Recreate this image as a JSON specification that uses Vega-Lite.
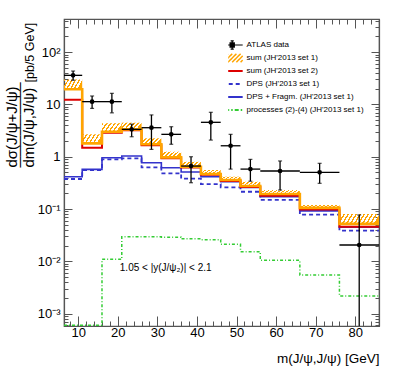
{
  "$schema": "https://vega.github.io/schema/vega-lite/v6.json",
  "width": 315,
  "height": 307,
  "autosize": {"type": "none"},
  "padding": {"left": 64, "top": 19, "right": 20, "bottom": 62},
  "background": "white",
  "config": {
    "view": {"stroke": "#555", "strokeWidth": 1.2},
    "font": "Liberation Sans",
    "axis": {
      "domainColor": "#555", "domainWidth": 1.2, "tickColor": "#555", "tickWidth": 1,
      "labelFont": "Liberation Sans", "labelColor": "#000", "titleFont": "Liberation Sans",
      "titleColor": "#000", "titleFontWeight": "normal", "grid": false,
      "labelOverlap": false, "labelFlush": false, "labelBound": false
    }
  },
  "datasets": {
    "hist": [
      {"bin": 1, "lo": 6.4, "hi": 11, "sum1": 19.5, "sum1up": 30, "sum2": 12.3, "dps": 0.375, "dpsf": 0.415, "proc": 0.0006},
      {"bin": 2, "lo": 11, "hi": 16, "sum1": 1.8, "sum1up": 2.68, "sum2": 1.49, "dps": 0.557, "dpsf": 0.574, "proc": 0.0006},
      {"bin": 3, "lo": 16, "hi": 21, "sum1": 3.0, "sum1up": 4.35, "sum2": 2.88, "dps": 0.89, "dpsf": 0.957, "proc": 0.0109},
      {"bin": 4, "lo": 21, "hi": 26, "sum1": 3.34, "sum1up": 4.47, "sum2": 3.2, "dps": 0.93, "dpsf": 1.03, "proc": 0.0295},
      {"bin": 5, "lo": 26, "hi": 31, "sum1": 1.73, "sum1up": 2.25, "sum2": 1.66, "dps": 0.627, "dpsf": 0.768, "proc": 0.0295},
      {"bin": 6, "lo": 31, "hi": 36, "sum1": 0.974, "sum1up": 1.25, "sum2": 0.94, "dps": 0.482, "dpsf": 0.616, "proc": 0.029},
      {"bin": 7, "lo": 36, "hi": 41, "sum1": 0.644, "sum1up": 0.8, "sum2": 0.62, "dps": 0.38, "dpsf": 0.51, "proc": 0.027},
      {"bin": 8, "lo": 41, "hi": 46, "sum1": 0.467, "sum1up": 0.557, "sum2": 0.45, "dps": 0.3, "dpsf": 0.415, "proc": 0.026},
      {"bin": 9, "lo": 46, "hi": 51, "sum1": 0.358, "sum1up": 0.415, "sum2": 0.345, "dps": 0.26, "dpsf": 0.333, "proc": 0.0211},
      {"bin": 10, "lo": 51, "hi": 56, "sum1": 0.275, "sum1up": 0.333, "sum2": 0.265, "dps": 0.214, "dpsf": 0.26, "proc": 0.0153},
      {"bin": 11, "lo": 56, "hi": 66, "sum1": 0.194, "sum1up": 0.231, "sum2": 0.18, "dps": 0.149, "dpsf": 0.172, "proc": 0.0105},
      {"bin": 12, "lo": 66, "hi": 76, "sum1": 0.105, "sum1up": 0.119, "sum2": 0.098, "dps": 0.078, "dpsf": 0.092, "proc": 0.00545},
      {"bin": 13, "lo": 76, "hi": 86, "sum1": 0.052, "sum1up": 0.08, "sum2": 0.046, "dps": 0.0385, "dpsf": 0.045, "proc": 0.00217}
    ],
    "pts": [
      {"x": 8.7, "y": 36, "ylo": 29, "yhi": 43.5, "lo": 6.4, "hi": 11},
      {"x": 13.5, "y": 11.3, "ylo": 8.4, "yhi": 14.5, "lo": 11, "hi": 16},
      {"x": 18.5, "y": 11.3, "ylo": 6.9, "yhi": 16.3, "lo": 16, "hi": 21},
      {"x": 23.5, "y": 3.34, "ylo": 2.41, "yhi": 4.2, "lo": 21, "hi": 26},
      {"x": 28.5, "y": 3.59, "ylo": 1.38, "yhi": 6.3, "lo": 26, "hi": 31},
      {"x": 33.5, "y": 2.68, "ylo": 1.73, "yhi": 3.75, "lo": 31, "hi": 36},
      {"x": 38.5, "y": 0.664, "ylo": 0.318, "yhi": 1.0, "lo": 36, "hi": 41},
      {"x": 43.5, "y": 4.55, "ylo": 2.08, "yhi": 7.07, "lo": 41, "hi": 46},
      {"x": 48.5, "y": 1.62, "ylo": 0.58, "yhi": 2.68, "lo": 46, "hi": 51},
      {"x": 53.5, "y": 0.58, "ylo": 0.34, "yhi": 0.89, "lo": 51, "hi": 56},
      {"x": 61, "y": 0.533, "ylo": 0.231, "yhi": 0.83, "lo": 56, "hi": 66},
      {"x": 71, "y": 0.503, "ylo": 0.31, "yhi": 0.748, "lo": 66, "hi": 76},
      {"x": 81, "y": 0.0205, "ylo": 0.0001, "yhi": 0.077, "lo": 76, "hi": 86}
    ]
  },
  "resolve": {"axis": {"x": "independent", "y": "independent"}},
  "layer": [
    {
      "data": {"name": "hist"},
      "transform": [{"filter": "datum.hi - datum.lo < 7"}],
      "mark": {"type": "rect", "clip": true, "fill": {"gradient": "linear", "x1": 0, "y1": 0, "x2": 1, "y2": 0.3, "stops": [
        {"offset": 0, "color": "#ffa500"}, {"offset": 0.075, "color": "#ffa500"}, {"offset": 0.075, "color": "rgba(255,255,255,0)"}, {"offset": 0.186, "color": "rgba(255,255,255,0)"},
        {"offset": 0.186, "color": "#ffa500"}, {"offset": 0.261, "color": "#ffa500"}, {"offset": 0.261, "color": "rgba(255,255,255,0)"}, {"offset": 0.372, "color": "rgba(255,255,255,0)"},
        {"offset": 0.372, "color": "#ffa500"}, {"offset": 0.447, "color": "#ffa500"}, {"offset": 0.447, "color": "rgba(255,255,255,0)"}, {"offset": 0.558, "color": "rgba(255,255,255,0)"},
        {"offset": 0.558, "color": "#ffa500"}, {"offset": 0.633, "color": "#ffa500"}, {"offset": 0.633, "color": "rgba(255,255,255,0)"}, {"offset": 0.744, "color": "rgba(255,255,255,0)"},
        {"offset": 0.744, "color": "#ffa500"}, {"offset": 0.819, "color": "#ffa500"}, {"offset": 0.819, "color": "rgba(255,255,255,0)"}, {"offset": 0.93, "color": "rgba(255,255,255,0)"},
        {"offset": 0.93, "color": "#ffa500"}, {"offset": 1, "color": "#ffa500"}
      ]}},
      "encoding": {
        "x": {"field": "lo", "type": "quantitative", "scale": {"domain": [6.4, 86], "nice": false, "zero": false},
          "axis": {"orient": "bottom", "values": [8,10,12,14,16,18,20,22,24,26,28,30,32,34,36,38,40,42,44,46,48,50,52,54,56,58,60,62,64,66,68,70,72,74,76,78,80,82,84,86],
            "labelExpr": "datum.value % 10 === 0 ? format(datum.value, 'd') : ''",
            "tickSize": {"condition": {"test": "datum.value % 10 === 0", "value": -10}, "value": -5},
            "labelFontSize": 13, "labelPadding": 10,
            "title": "m(J/ψ,J/ψ) [GeV]", "titleFontSize": 13.5, "titleAnchor": "end", "titleAlign": "right", "titleX": 315, "titleY": 36, "titleBaseline": "alphabetic"}},
        "x2": {"field": "hi"},
        "y": {"field": "sum1", "type": "quantitative", "scale": {"type": "log", "domain": [0.00058, 430], "nice": false},
          "axis": {"orient": "left",
            "values": [0.0006,0.0007,0.0008,0.0009,0.001,0.002,0.003,0.004,0.005,0.006,0.007,0.008,0.009,0.01,0.02,0.03,0.04,0.05,0.06,0.07,0.08,0.09,0.1,0.2,0.3,0.4,0.5,0.6,0.7,0.8,0.9,1,2,3,4,5,6,7,8,9,10,20,30,40,50,60,70,80,90,100,200,300,400],
            "labelExpr": "datum.value == 100 ? '10²' : datum.value == 10 ? '10' : datum.value == 1 ? '1' : datum.value == 0.1 ? '10⁻¹' : datum.value == 0.01 ? '10⁻²' : datum.value == 0.001 ? '10⁻³' : ''",
            "tickSize": {"condition": {"test": "datum.value == 0.001 || datum.value == 0.01 || datum.value == 0.1 || datum.value == 1 || datum.value == 10 || datum.value == 100", "value": -8}, "value": -4},
            "labelFontSize": 13, "labelPadding": 12,
            "title": ["dσ(J/ψ+J/ψ)", "────────", "dm(J/ψ,J/ψ)"], "titleFontSize": 15, "titleLineHeight": 8.5,
            "titleAngle": 270, "titleAlign": "left", "titleBaseline": "middle", "titleX": -53, "titleY": 148}},
        "y2": {"field": "sum1up"}
      }
    },
    {
      "data": {"name": "hist"},
      "transform": [{"filter": "datum.hi - datum.lo > 7"}],
      "mark": {"type": "rect", "clip": true, "fill": {"gradient": "linear", "x1": 0, "y1": 0, "x2": 1, "y2": 0.15, "stops": [
        {"offset": 0, "color": "#ffa500"}, {"offset": 0.04, "color": "#ffa500"}, {"offset": 0.04, "color": "rgba(255,255,255,0)"}, {"offset": 0.099, "color": "rgba(255,255,255,0)"},
        {"offset": 0.099, "color": "#ffa500"}, {"offset": 0.139, "color": "#ffa500"}, {"offset": 0.139, "color": "rgba(255,255,255,0)"}, {"offset": 0.198, "color": "rgba(255,255,255,0)"},
        {"offset": 0.198, "color": "#ffa500"}, {"offset": 0.238, "color": "#ffa500"}, {"offset": 0.238, "color": "rgba(255,255,255,0)"}, {"offset": 0.297, "color": "rgba(255,255,255,0)"},
        {"offset": 0.297, "color": "#ffa500"}, {"offset": 0.337, "color": "#ffa500"}, {"offset": 0.337, "color": "rgba(255,255,255,0)"}, {"offset": 0.396, "color": "rgba(255,255,255,0)"},
        {"offset": 0.396, "color": "#ffa500"}, {"offset": 0.436, "color": "#ffa500"}, {"offset": 0.436, "color": "rgba(255,255,255,0)"}, {"offset": 0.495, "color": "rgba(255,255,255,0)"},
        {"offset": 0.495, "color": "#ffa500"}, {"offset": 0.535, "color": "#ffa500"}, {"offset": 0.535, "color": "rgba(255,255,255,0)"}, {"offset": 0.594, "color": "rgba(255,255,255,0)"},
        {"offset": 0.594, "color": "#ffa500"}, {"offset": 0.634, "color": "#ffa500"}, {"offset": 0.634, "color": "rgba(255,255,255,0)"}, {"offset": 0.693, "color": "rgba(255,255,255,0)"},
        {"offset": 0.693, "color": "#ffa500"}, {"offset": 0.733, "color": "#ffa500"}, {"offset": 0.733, "color": "rgba(255,255,255,0)"}, {"offset": 0.792, "color": "rgba(255,255,255,0)"},
        {"offset": 0.792, "color": "#ffa500"}, {"offset": 0.832, "color": "#ffa500"}, {"offset": 0.832, "color": "rgba(255,255,255,0)"}, {"offset": 0.891, "color": "rgba(255,255,255,0)"},
        {"offset": 0.891, "color": "#ffa500"}, {"offset": 0.931, "color": "#ffa500"}, {"offset": 0.931, "color": "rgba(255,255,255,0)"}, {"offset": 0.99, "color": "rgba(255,255,255,0)"},
        {"offset": 0.99, "color": "#ffa500"}, {"offset": 1, "color": "#ffa500"}
      ]}},
      "encoding": {
        "x": {"field": "lo", "type": "quantitative", "scale": {"domain": [6.4, 86], "nice": false, "zero": false},
          "axis": {"orient": "top", "values": [8,10,12,14,16,18,20,22,24,26,28,30,32,34,36,38,40,42,44,46,48,50,52,54,56,58,60,62,64,66,68,70,72,74,76,78,80,82,84,86],
            "labels": false, "title": null,
            "tickSize": {"condition": {"test": "datum.value % 10 === 0", "value": -9}, "value": -5}}},
        "x2": {"field": "hi"},
        "y": {"field": "sum1", "type": "quantitative", "scale": {"type": "log", "domain": [0.00058, 430], "nice": false},
          "axis": {"orient": "right", "labels": false, "title": null,
            "values": [0.0006,0.0007,0.0008,0.0009,0.001,0.002,0.003,0.004,0.005,0.006,0.007,0.008,0.009,0.01,0.02,0.03,0.04,0.05,0.06,0.07,0.08,0.09,0.1,0.2,0.3,0.4,0.5,0.6,0.7,0.8,0.9,1,2,3,4,5,6,7,8,9,10,20,30,40,50,60,70,80,90,100,200,300,400],
            "tickSize": {"condition": {"test": "datum.value == 0.001 || datum.value == 0.01 || datum.value == 0.1 || datum.value == 1 || datum.value == 10 || datum.value == 100", "value": -8}, "value": -4}}},
        "y2": {"field": "sum1up"}
      }
    },
    {
      "data": {"name": "hist"},
      "transform": [{"fold": ["lo", "hi"], "as": ["edge", "xx"]}],
      "mark": {"type": "line", "clip": true, "strokeWidth": 1.5, "strokeDash": [3, 2, 1, 2]},
      "encoding": {
        "x": {"field": "xx", "type": "quantitative", "scale": {"domain": [6.4, 86], "nice": false, "zero": false}, "axis": null},
        "y": {"field": "proc", "type": "quantitative", "scale": {"type": "log", "domain": [0.00058, 430], "nice": false},
          "axis": {"orient": "left", "labels": false, "ticks": false, "domain": false, "title": "[pb/5 GeV]", "titleFontSize": 12.5,
            "titleAngle": 270, "titleAlign": "left", "titleBaseline": "middle", "titleX": -35, "titleY": 63}},
        "order": [{"field": "xx"}, {"field": "bin"}],
        "color": {"datum": "processes (2)-(4) (JH'2013 set 1)", "type": "nominal",
          "scale": {"domain": ["ATLAS data", "sum (JH'2013 set 1)", "sum (JH'2013 set 2)", "DPS (JH'2013 set 1)", "DPS + Fragm. (JH'2013 set 1)", "processes (2)-(4) (JH'2013 set 1)"],
                    "range": ["#000000", "#ffa500", "#dd0000", "#3333cc", "#3333cc", "#33cc33"]},
          "legend": {"title": null, "orient": "none", "legendX": 164.2, "legendY": 21, "padding": 0,
            "labelFont": "Liberation Sans", "labelFontSize": 8, "labelColor": "#000", "labelOffset": 10.3,
            "symbolSize": 110, "rowPadding": 3, "clipHeight": 10, "gridAlign": "each", "symbolType": "stroke",
            "encode": {"symbols": {"update": {
              "shape": {"signal": "datum.index === 0 ? 'M-2,0H2M0,-0.8V0.8M-0.3,-0.8H0.3M-0.3,0.8H0.3M-0.4,-0.4H0.4V0.4H-0.4Z' : datum.index === 1 ? 'M-2,-0.4L-1.6,-0.8M-2,0.4L-0.8,-0.8M-1.6,0.8L0,-0.8M-0.8,0.8L0.8,-0.8M0,0.8L1.6,-0.8M0.8,0.8L2,-0.4M1.6,0.8L2,0.4' : 'M-2,0H2'"},
              "size": {"value": 110},
              "stroke": {"signal": "datum.index === 0 ? '#000000' : datum.index === 1 ? '#ffa500' : datum.index === 2 ? '#dd0000' : datum.index === 5 ? '#33cc33' : '#3333cc'"},
              "fill": {"signal": "datum.index === 0 ? '#000000' : 'transparent'"},
              "strokeDash": {"signal": "datum.index === 3 ? [4, 3] : datum.index === 5 ? [1.5, 2, 4, 2] : [1, 0]"},
              "strokeWidth": {"signal": "datum.index === 0 ? 1.2 : datum.index === 1 ? 1.5 : 2"},
              "opacity": {"value": 1}
            }}}}}
      }
    },
    {
      "data": {"name": "hist"},
      "transform": [{"fold": ["lo", "hi"], "as": ["edge", "xx"]}],
      "mark": {"type": "line", "clip": true, "strokeWidth": 1.8, "strokeDash": [4, 3]},
      "encoding": {
        "x": {"field": "xx", "type": "quantitative", "scale": {"domain": [6.4, 86], "nice": false, "zero": false}, "axis": null},
        "y": {"field": "dps", "type": "quantitative", "scale": {"type": "log", "domain": [0.00058, 430], "nice": false}, "axis": null},
        "order": [{"field": "xx"}, {"field": "bin"}],
        "color": {"datum": "DPS (JH'2013 set 1)", "type": "nominal"}
      }
    },
    {
      "data": {"name": "hist"},
      "transform": [{"fold": ["lo", "hi"], "as": ["edge", "xx"]}],
      "mark": {"type": "line", "clip": true, "strokeWidth": 1.6},
      "encoding": {
        "x": {"field": "xx", "type": "quantitative", "scale": {"domain": [6.4, 86], "nice": false, "zero": false}, "axis": null},
        "y": {"field": "dpsf", "type": "quantitative", "scale": {"type": "log", "domain": [0.00058, 430], "nice": false}, "axis": null},
        "order": [{"field": "xx"}, {"field": "bin"}],
        "color": {"datum": "DPS + Fragm. (JH'2013 set 1)", "type": "nominal"}
      }
    },
    {
      "data": {"name": "hist"},
      "transform": [{"fold": ["lo", "hi"], "as": ["edge", "xx"]}],
      "mark": {"type": "line", "clip": true, "strokeWidth": 2},
      "encoding": {
        "x": {"field": "xx", "type": "quantitative", "scale": {"domain": [6.4, 86], "nice": false, "zero": false}, "axis": null},
        "y": {"field": "sum2", "type": "quantitative", "scale": {"type": "log", "domain": [0.00058, 430], "nice": false}, "axis": null},
        "order": [{"field": "xx"}, {"field": "bin"}],
        "color": {"datum": "sum (JH'2013 set 2)", "type": "nominal"}
      }
    },
    {
      "data": {"name": "hist"},
      "transform": [{"fold": ["lo", "hi"], "as": ["edge", "xx"]}],
      "mark": {"type": "line", "clip": true, "strokeWidth": 2.6},
      "encoding": {
        "x": {"field": "xx", "type": "quantitative", "scale": {"domain": [6.4, 86], "nice": false, "zero": false}, "axis": null},
        "y": {"field": "sum1", "type": "quantitative", "scale": {"type": "log", "domain": [0.00058, 430], "nice": false}, "axis": null},
        "order": [{"field": "xx"}, {"field": "bin"}],
        "color": {"datum": "sum (JH'2013 set 1)", "type": "nominal"}
      }
    },
    {
      "data": {"name": "pts"},
      "mark": {"type": "rule", "clip": true, "color": "#000", "strokeWidth": 1.3},
      "encoding": {
        "x": {"field": "lo", "type": "quantitative", "scale": {"domain": [6.4, 86], "nice": false, "zero": false}, "axis": null},
        "x2": {"field": "hi"},
        "y": {"field": "y", "type": "quantitative", "scale": {"type": "log", "domain": [0.00058, 430], "nice": false}, "axis": null}
      }
    },
    {
      "data": {"name": "pts"},
      "mark": {"type": "rule", "clip": true, "color": "#000", "strokeWidth": 1.3},
      "encoding": {
        "x": {"field": "x", "type": "quantitative", "scale": {"domain": [6.4, 86], "nice": false, "zero": false}, "axis": null},
        "y": {"field": "ylo", "type": "quantitative", "scale": {"type": "log", "domain": [0.00058, 430], "nice": false}, "axis": null},
        "y2": {"field": "yhi"}
      }
    },
    {
      "data": {"name": "pts"},
      "mark": {"type": "tick", "clip": true, "orient": "horizontal", "color": "#000", "size": 4, "thickness": 1.2},
      "encoding": {
        "x": {"field": "x", "type": "quantitative", "scale": {"domain": [6.4, 86], "nice": false, "zero": false}, "axis": null},
        "y": {"field": "ylo", "type": "quantitative", "scale": {"type": "log", "domain": [0.00058, 430], "nice": false}, "axis": null}
      }
    },
    {
      "data": {"name": "pts"},
      "mark": {"type": "tick", "clip": true, "orient": "horizontal", "color": "#000", "size": 4, "thickness": 1.2},
      "encoding": {
        "x": {"field": "x", "type": "quantitative", "scale": {"domain": [6.4, 86], "nice": false, "zero": false}, "axis": null},
        "y": {"field": "yhi", "type": "quantitative", "scale": {"type": "log", "domain": [0.00058, 430], "nice": false}, "axis": null}
      }
    },
    {
      "data": {"name": "pts"},
      "mark": {"type": "point", "clip": true, "filled": true, "shape": "circle", "size": 22, "opacity": 1},
      "encoding": {
        "x": {"field": "x", "type": "quantitative", "scale": {"domain": [6.4, 86], "nice": false, "zero": false}, "axis": null},
        "y": {"field": "y", "type": "quantitative", "scale": {"type": "log", "domain": [0.00058, 430], "nice": false}, "axis": null},
        "color": {"datum": "ATLAS data", "type": "nominal"}
      }
    },
    {
      "data": {"values": [{"label": "1.05 < |y(J/ψ₂)| < 2.1"}]},
      "mark": {"type": "text", "align": "left", "baseline": "middle", "font": "Liberation Sans", "fontSize": 10, "color": "#000"},
      "encoding": {
        "x": {"datum": 20.5, "type": "quantitative", "scale": {"domain": [6.4, 86], "nice": false, "zero": false}, "axis": null},
        "y": {"datum": 0.0073, "type": "quantitative", "scale": {"type": "log", "domain": [0.00058, 430], "nice": false}, "axis": null},
        "text": {"field": "label"}
      }
    }
  ]
}
